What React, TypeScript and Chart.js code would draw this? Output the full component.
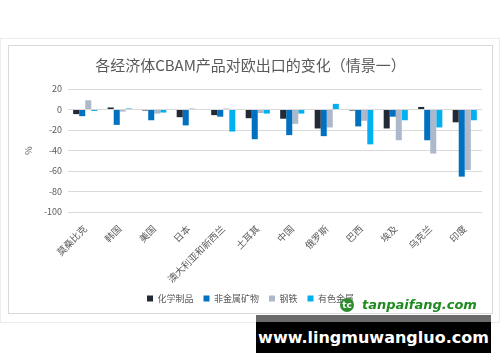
import React, { useEffect, useRef } from "react";
import { Chart, registerables } from "chart.js";

Chart.register(...registerables);

const title = "各经济体CBAM产品对欧出口的变化（情景一）";
const categories = ["莫桑比克", "韩国", "美国", "日本", "澳大利亚和新西兰", "土耳其", "中国", "俄罗斯", "巴西", "埃及", "乌克兰", "印度"];
const seriesNames = ["化学制品", "非金属矿物", "钢铁", "有色金属"];
const chemicals = [-4.5, 2, -1, -7.5, -5.5, -8.5, -9, -18.5, -1, -18.5, 2.5, -12.5];
const minerals = [-6.5, -15, -10.5, -15.5, -7, -29, -25, -26, -16.5, -7, -30, -65.5];
const steel = [9, -2, -4, 1, 1, -3.5, -14, -17.5, -11, -30, -43, -59];
const nonferrous = [-1.5, 1, -3, 0.5, -21.5, -4, -4, 5.5, -34, -10.5, -17.5, -10.5];
const colors = ["#222a35", "#0070c0", "#adb9ca", "#00b0f0"];
const yMin = -100;
const yMax = 20;
const yStep = 20;

const FONT = "'Noto Sans CJK SC', 'Noto Sans', sans-serif";

export default function App() {
  const ref = useRef<HTMLCanvasElement | null>(null);
  useEffect(() => {
    if (!ref.current) return;
    const data = [chemicals, minerals, steel, nonferrous];
    const chart = new Chart(ref.current, {
      type: "bar",
      data: {
        labels: categories,
        datasets: seriesNames.map((n, i) => ({
          label: n,
          data: data[i],
          backgroundColor: colors[i],
          borderWidth: 0,
          categoryPercentage: 0.7,
          barPercentage: 1,
        })),
      },
      options: {
        responsive: false,
        animation: false,
        layout: { padding: { left: 10, right: 10, top: 0, bottom: 0 } },
        plugins: {
          title: {
            display: true,
            text: title,
            color: "#595959",
            font: { family: FONT, size: 15, weight: "normal" },
            padding: { top: 10, bottom: 15 },
          },
          legend: {
            position: "bottom",
            labels: {
              boxWidth: 6,
              boxHeight: 6,
              color: "#595959",
              font: { family: FONT, size: 9 },
              padding: 10,
            },
          },
          tooltip: { enabled: false },
        },
        scales: {
          x: {
            grid: { display: false },
            border: { display: false },
            ticks: {
              autoSkip: false,
              maxRotation: 45,
              minRotation: 45,
              color: "#595959",
              font: { family: FONT, size: 9.5 },
              padding: 3,
            },
            afterFit: (s: any) => {
              s.height = 72;
            },
          },
          y: {
            min: yMin,
            max: yMax,
            ticks: {
              stepSize: yStep,
              color: "#595959",
              font: { family: FONT, size: 9 },
              padding: 6,
            },
            grid: { color: "#d9d9d9", drawTicks: false },
            border: { display: false },
            title: {
              display: true,
              text: "%",
              color: "#595959",
              font: { family: FONT, size: 9 },
            },
            afterFit: (s: any) => {
              s.width = 49;
            },
          },
        },
      },
    });
    return () => chart.destroy();
  }, []);

  return (
    <div style={{ position: "absolute", left: 0, top: 0, width: 500, height: 362, background: "#fff", overflow: "hidden" }}>
      <div style={{ position: "absolute", left: 0, top: 38, width: 498, height: 283, border: "1px solid #ececec" }} />
      <div style={{ position: "absolute", left: 8, top: 45, width: 483, height: 267, border: "1px solid #d9d9d9", background: "#fff" }}>
        <canvas ref={ref} width={483} height={267} style={{ display: "block" }} />
      </div>
      <div style={{ position: "absolute", left: 340, top: 297, display: "flex", alignItems: "center" }}>
        <div style={{ width: 14, height: 14, borderRadius: 7, background: "#2e8b2e", color: "#fff", fontSize: 9, fontWeight: "bold", fontFamily: "DejaVu Sans", display: "flex", alignItems: "center", justifyContent: "center" }}>tc</div>
        <span style={{ marginLeft: 8, color: "#1f8a1f", fontFamily: "'DejaVu Sans', sans-serif", fontWeight: "bold", fontStyle: "italic", fontSize: 13 }}>tanpaifang.com</span>
      </div>
      <div style={{ position: "absolute", left: 256, top: 315, width: 235, height: 7, background: "#6b6b6b" }} />
      <div style={{ position: "absolute", left: 256, top: 322, width: 235, height: 31, background: "#000", color: "#fff", fontFamily: "'DejaVu Sans', sans-serif", fontWeight: "bold", fontSize: 16, display: "flex", alignItems: "center", justifyContent: "center" }}>www.lingmuwangluo.com</div>
    </div>
  );
}
